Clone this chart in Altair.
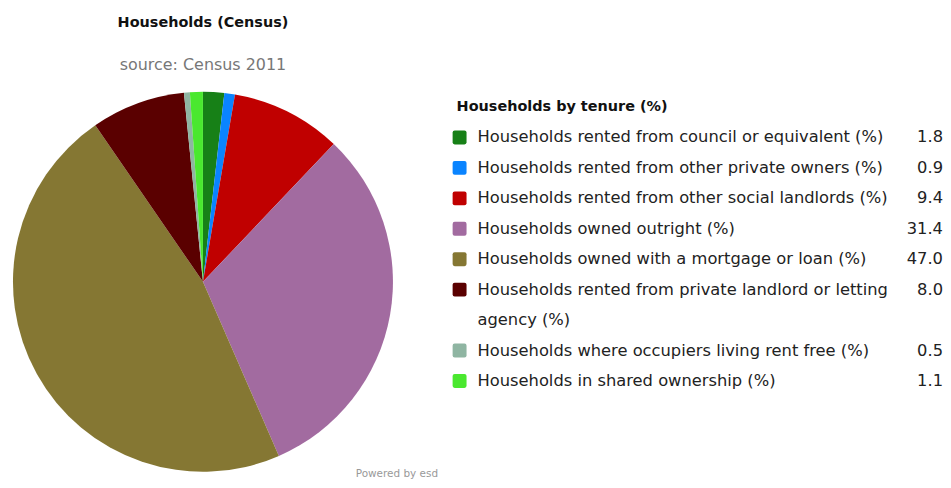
import altair as alt
import pandas as pd

# ---- data ----
categories = [
    "Households rented from council or equivalent (%)",
    "Households rented from other private owners (%)",
    "Households rented from other social landlords (%)",
    "Households owned outright (%)",
    "Households owned with a mortgage or loan (%)",
    "Households rented from private landlord or letting agency (%)",
    "Households where occupiers living rent free (%)",
    "Households in shared ownership (%)",
]
values = [1.8, 0.9, 9.4, 31.4, 47.0, 8.0, 0.5, 1.1]
colors = ["#178017", "#0a84ff", "#c00000", "#a26ba0",
          "#857733", "#5a0000", "#8fb5a2", "#4ae82f"]
# legend label text per line (the long one wraps onto a second line)
label_first_line = [
    "Households rented from council or equivalent (%)",
    "Households rented from other private owners (%)",
    "Households rented from other social landlords (%)",
    "Households owned outright (%)",
    "Households owned with a mortgage or loan (%)",
    "Households rented from private landlord or letting",
    "Households where occupiers living rent free (%)",
    "Households in shared ownership (%)",
]
wrap_after = 5
wrap_text = "agency (%)"
title_text = "Households (Census)"
subtitle_text = "source: Census 2011"
legend_title = "Households by tenure (%)"
credit_text = "Powered by esd"

FONT = "DejaVu Sans"

df = pd.DataFrame({
    "category": categories,
    "value": values,
    "idx": list(range(len(categories))),
    "label": label_first_line,
    "line": categories,
    "kind": ["cat"] * len(categories),
})

lines = ["__title__"]
for i, c in enumerate(categories):
    lines.append(c)
    if i == wrap_after:
        lines.append("__wrap__")

extra = pd.DataFrame({
    "category": ["", ""],
    "value": [0.0, 0.0],
    "idx": [-1, -1],
    "label": [legend_title, wrap_text],
    "line": ["__title__", "__wrap__"],
    "kind": ["title", "wrap"],
})
legend_df = pd.concat([df, extra], ignore_index=True)

color_scale = alt.Scale(domain=categories, range=colors)

# ---- pie ----
PIE = 382
pie = alt.Chart(df).mark_arc(strokeWidth=0).encode(
    theta=alt.Theta("value:Q", stack=True),
    color=alt.Color("category:N", scale=color_scale, legend=None),
    order=alt.Order("idx:Q"),
)
credit = alt.Chart(pd.DataFrame({"t": [credit_text]})).mark_text(
    font=FONT, fontSize=10.5, color="#999999", align="center", baseline="alphabetic"
).encode(text="t:N", x=alt.value(386), y=alt.value(PIE + 5))

pie_chart = alt.layer(pie, credit).properties(
    width=PIE, height=PIE,
    title=alt.TitleParams(
        text=title_text, subtitle=subtitle_text, anchor="middle",
        font=FONT, fontSize=14.5, fontWeight="bold", color="#111111",
        subtitleFont=FONT, subtitleFontSize=16, subtitleColor="#777777",
        subtitlePadding=27, offset=18,
    ),
)

# ---- legend (table) ----
yenc = alt.Y("line:N", scale=alt.Scale(type="point", domain=lines, padding=0.5), axis=None)
base = alt.Chart(legend_df).encode(y=yenc)

squares = base.transform_filter("datum.kind == 'cat'").mark_point(
    shape="M -0.7 -1 L 0.7 -1 Q 1 -1 1 -0.7 L 1 0.7 Q 1 1 0.7 1 L -0.7 1 Q -1 1 -1 0.7 L -1 -0.7 Q -1 -1 -0.7 -1 Z",
    filled=True, size=196, opacity=1,
).encode(x=alt.value(47), color=alt.Color("category:N", scale=color_scale, legend=None))

labels = base.transform_filter("datum.kind != 'title'").mark_text(
    font=FONT, fontSize=16.4, color="#222222", align="left", baseline="middle"
).encode(x=alt.value(65), text="label:N")

ltitle = base.transform_filter("datum.kind == 'title'").mark_text(
    font=FONT, fontSize=14.5, fontWeight="bold", color="#111111", align="left", baseline="middle"
).encode(x=alt.value(44), text="label:N")

vals = base.transform_filter("datum.kind == 'cat'").mark_text(
    font=FONT, fontSize=16.4, color="#222222", align="right", baseline="middle"
).encode(x=alt.value(533), text=alt.Text("value:Q", format=".1f"))

legend_chart = alt.layer(squares, labels, ltitle, vals).properties(width=533, height=306)

chart = alt.hconcat(pie_chart, legend_chart, spacing=20, bounds="flush").configure_view(
    stroke=None
).properties(
    padding={"left": 5, "top": 5, "right": 0, "bottom": 0}
)

chart.save("out.html", embed_options={"renderer": "svg", "actions": False})
